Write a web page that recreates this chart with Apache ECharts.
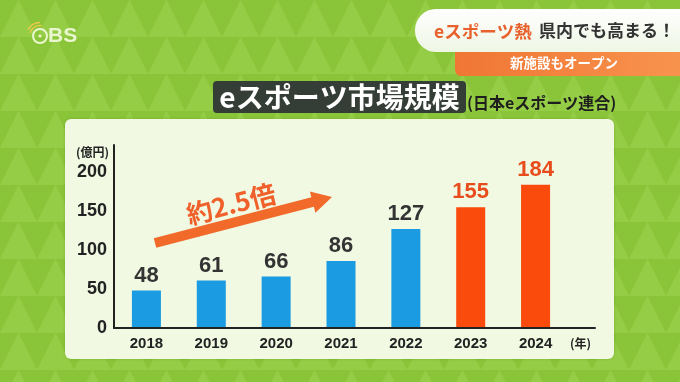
<!DOCTYPE html>
<html>
<head>
<meta charset="utf-8">
<script src="https://cdn.jsdelivr.net/npm/echarts@6/dist/echarts.min.js"></script>
<style>
html,body{margin:0;padding:0;width:680px;height:382px;overflow:hidden;}
body{
  background-color:#8ac539;
  background-image:url("data:image/svg+xml;utf8,<svg xmlns='http://www.w3.org/2000/svg' width='37' height='37'><polygon points='0,37 18.5,0 37,37' fill='%2396cd46'/></svg>");
  background-size:37px 37px;
}
#chart{width:680px;height:382px;}
</style>
</head>
<body>
<div id="chart"></div>
<script>
// ---- data ----
const years = ['2018', '2019', '2020', '2021', '2022', '2023', '2024'];
const marketSize = [48, 61, 66, 86, 127, 155, 184];   // 億円
const highlightYears = ['2023', '2024'];
const yTickValues = [0, 50, 100, 150, 200];

// ---- styles ----
const BLUE = '#1b9be2';
const ORANGE = '#fa4a0c';
const LABEL_DARK = '#333333';
const LABEL_ORANGE = '#e84c1c';
const NUM_FONT = '"Liberation Sans", Arial, "Noto Sans CJK JP", sans-serif';
const JP_FONT = '"Noto Sans CJK JP", "Liberation Sans", sans-serif';

const barData = marketSize.map((v, i) => {
  const hi = highlightYears.includes(years[i]);
  return {
    value: v,
    itemStyle: { color: hi ? ORANGE : BLUE },
    label: { color: hi ? LABEL_ORANGE : LABEL_DARK }
  };
});

// arrow geometry (decoration)
const tail = [155, 243], tip = [332, 197];
const dx = tip[0] - tail[0], dy = tip[1] - tail[1];
const L = Math.sqrt(dx * dx + dy * dy);
const u = [dx / L, dy / L], n = [-u[1], u[0]];
const headLen = 20, shaftHW = 5, headHW = 11;
const b = [tip[0] - headLen * u[0], tip[1] - headLen * u[1]];
const P = (p, k) => [p[0] + k * n[0], p[1] + k * n[1]];
const arrowPts = [P(tail, -shaftHW), P(b, -shaftHW), P(b, -headHW), tip, P(b, headHW), P(b, shaftHW), P(tail, shaftHW)];

const chart = echarts.init(document.getElementById('chart'), null, { renderer: 'canvas' });
chart.setOption({
  backgroundColor: 'transparent',
  animation: false,
  grid: [
    { left: 114, top: 145, width: 454, bottom: 54, containLabel: false },
    { left: 114, top: 145, right: 85, bottom: 54, containLabel: false }
  ],
  xAxis: [
    {
      type: 'category',
      gridIndex: 0,
      data: years,
      z: 3,
      axisLine: { show: false },
      axisTick: { show: false },
      axisLabel: { color: '#222', fontSize: 15, fontWeight: 'bold', fontFamily: NUM_FONT, margin: 8 },
      name: '(年)',
      nameLocation: 'end',
      nameGap: 2,
      nameTextStyle: { color: '#222', fontSize: 12, fontWeight: 'bold', fontFamily: JP_FONT, verticalAlign: 'top', align: 'left', padding: [9, 0, 0, 0] }
    },
    {
      type: 'value',
      gridIndex: 1,
      min: 0, max: 1,
      z: 3,
      axisLine: { show: true, lineStyle: { color: '#222', width: 2 } },
      axisTick: { show: false },
      axisLabel: { show: false },
      splitLine: { show: false }
    }
  ],
  yAxis: [
    {
      type: 'value',
      gridIndex: 0,
      min: 0,
      max: 235,
      interval: 50,
      z: 3,
      axisLine: { show: true, lineStyle: { color: '#222', width: 2 } },
      axisTick: { show: false },
      splitLine: { show: false },
      axisLabel: {
        color: '#222', fontSize: 18, fontWeight: 'bold', fontFamily: NUM_FONT, margin: 7,
        formatter: v => yTickValues.includes(v) ? String(v) : ''
      },
      name: '(億円)',
      nameLocation: 'end',
      nameGap: -7,
      nameTextStyle: { color: '#222', fontSize: 12, fontWeight: 'bold', fontFamily: JP_FONT, align: 'right', verticalAlign: 'middle', padding: [0, 5, 0, 0] }
    },
    { type: 'value', gridIndex: 1, show: false }
  ],
  series: [
    {
      type: 'bar',
      xAxisIndex: 0,
      yAxisIndex: 0,
      data: barData,
      barWidth: 29,
      z: 2,
      label: {
        show: true,
        position: 'top',
        distance: 4,
        fontSize: 22,
        fontWeight: 'bold',
        fontFamily: NUM_FONT
      }
    }
  ],
  graphic: [
    // chart panel
    { type: 'rect', z: -5, shape: { x: 65, y: 119, width: 549, height: 240, r: 6 },
      style: { fill: '#f1f9e3', shadowBlur: 3, shadowColor: 'rgba(0,0,0,0.15)' } },
    // title box
    { type: 'rect', z: 1, shape: { x: 213, y: 81, width: 253, height: 32, r: 4 },
      style: { fill: '#353d37' } },
    { type: 'text', z: 2, x: 339.5, y: 97,
      style: { text: 'eスポーツ市場規模', fill: '#ffffff', font: 'bold 28px ' + JP_FONT, align: 'center', verticalAlign: 'middle' } },
    { type: 'text', z: 2, x: 467, y: 103,
      style: { text: '(日本eスポーツ連合)', fill: '#1e1e1e', font: 'bold 16px ' + JP_FONT, align: 'left', verticalAlign: 'middle' } },
    // top-right banner
    { type: 'rect', z: 1, shape: { x: 455, y: 50, width: 240, height: 26, r: [0, 0, 0, 6] },
      style: { fill: new echarts.graphic.LinearGradient(0, 0, 1, 0, [{ offset: 0, color: '#f07634' }, { offset: 1, color: '#f8954f' }]) } },
    { type: 'rect', z: 2, shape: { x: 415, y: 9, width: 280, height: 43, r: [21, 0, 0, 21] },
      style: { fill: new echarts.graphic.LinearGradient(0, 0, 0, 1, [{ offset: 0, color: '#ffffff' }, { offset: 1, color: '#eef6e4' }]) } },
    { type: 'text', z: 3, x: 434, y: 31,
      style: { text: 'eスポーツ熱', fill: '#e8612c', font: 'bold 17.5px ' + JP_FONT, align: 'left', verticalAlign: 'middle' } },
    { type: 'text', z: 3, x: 539, y: 31,
      style: { text: '県内でも高まる！', fill: '#333333', font: 'bold 17px ' + JP_FONT, align: 'left', verticalAlign: 'middle' } },
    { type: 'text', z: 3, x: 564, y: 63,
      style: { text: '新施設もオープン', fill: '#ffffff', font: 'bold 13.5px ' + JP_FONT, align: 'center', verticalAlign: 'middle' } },
    // OBS logo
    { type: 'circle', z: 1, shape: { cx: 40, cy: 36, r: 7 },
      style: { fill: 'none', stroke: '#eaf6cf', lineWidth: 2 } },
    { type: 'circle', z: 1, shape: { cx: 40, cy: 36, r: 1.6 },
      style: { fill: '#eaf6cf' } },
    { type: 'arc', z: 1, shape: { cx: 40, cy: 36, r: 10.5, startAngle: Math.PI * 1.1, endAngle: Math.PI * 1.55 },
      style: { stroke: '#e9c94a', lineWidth: 1.5, fill: 'none' } },
    { type: 'arc', z: 1, shape: { cx: 40, cy: 36, r: 13.5, startAngle: Math.PI * 1.15, endAngle: Math.PI * 1.5 },
      style: { stroke: '#e9c94a', lineWidth: 1.5, fill: 'none' } },
    { type: 'text', z: 1, x: 48, y: 36,
      style: { text: 'BS', fill: '#eaf6cf', font: 'bold 21px ' + NUM_FONT, align: 'left', verticalAlign: 'middle' } },
    // growth arrow
    { type: 'polygon', z: 5, shape: { points: arrowPts },
      style: { fill: '#f26a2a' } },
    { type: 'text', z: 5, x: 231, y: 204, rotation: Math.atan2(-dy, dx),
      style: { text: '約2.5倍', fill: '#f0602a', font: 'bold 26px ' + JP_FONT, align: 'center', verticalAlign: 'middle' } }
  ]
});
</script>
</body>
</html>
